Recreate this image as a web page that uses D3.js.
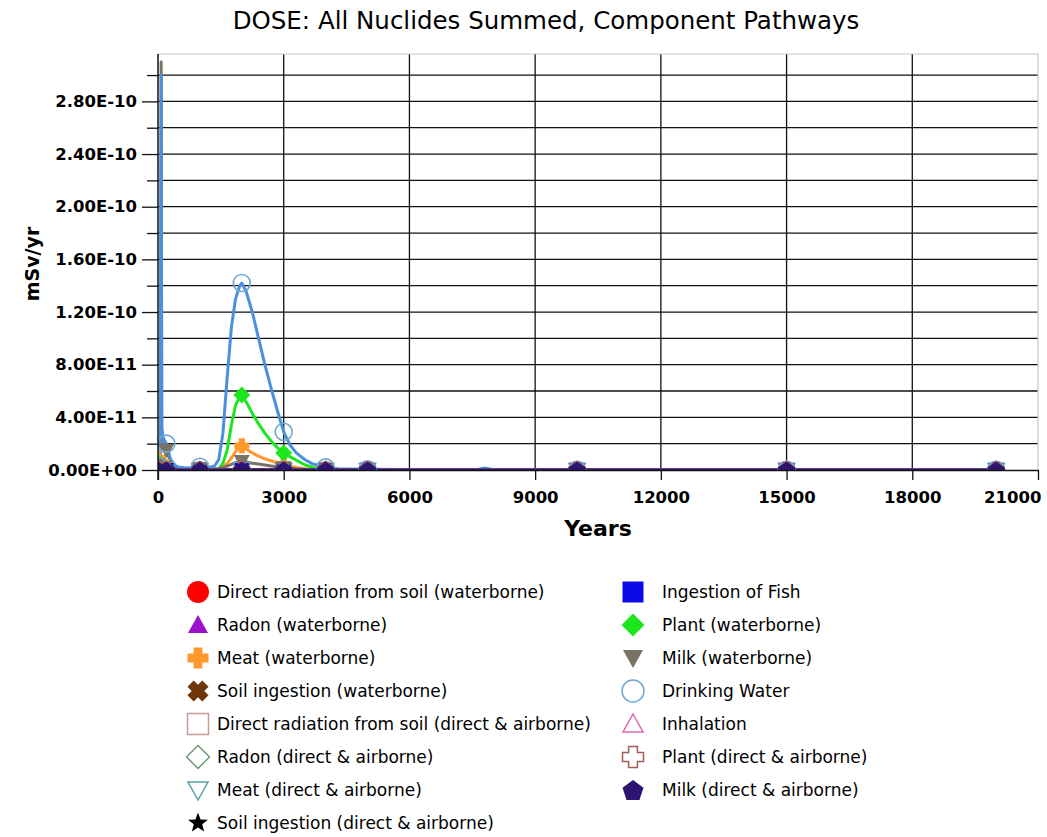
<!DOCTYPE html>
<html>
<head>
<meta charset="utf-8">
<script src="https://cdn.jsdelivr.net/npm/d3@7"></script>
<style>
  body { margin: 0; background: #fff; }
  svg { display: block; }
  text { font-family: "DejaVu Sans", Verdana, sans-serif; fill: #000; }
</style>
</head>
<body>
<svg id="chart" width="1047" height="837"></svg>
<script>
// ---- Data -------------------------------------------------------------
const chartTitle = "DOSE: All Nuclides Summed, Component Pathways";
const xTitle = "Years";
const yTitle = "mSv/yr";

// fine time grid (years) used by the pathways that vary
const years = [0, 30, 60, 75, 90, 130, 200, 300, 400, 500,
  700, 850, 1000, 1200, 1350, 1450, 1550, 1650, 1750, 1850,
  1950, 2000, 2100, 2250, 2400, 2550, 2700, 2850, 3000, 3150,
  3300, 3500, 3700, 4000, 4300, 5000, 6000, 7000, 7600, 7800,
  8000, 9000, 10000, 12000, 15000, 18000, 20000];

// times at which symbols are plotted
const markerYears = [0, 200, 1000, 2000, 3000, 4000, 5000, 10000, 15000, 20000];

// dose values, mSv/yr
const drinkingWater = [3e-12, 5e-12, 1.0e-11, 3.0e-10, 3.2e-11, 2.4e-11, 2.0e-11, 8e-12, 3.5e-12, 2e-12,
  1.5e-12, 2e-12, 2.5e-12, 2e-12, 3e-12, 8e-12, 2.8e-11, 7.0e-11, 1.08e-10, 1.30e-10,
  1.40e-10, 1.42e-10, 1.36e-10, 1.20e-10, 1.00e-10, 8.0e-11, 6.2e-11, 4.5e-11, 2.9e-11, 1.9e-11,
  1.3e-11, 8e-12, 4.5e-12, 2e-12, 1e-12, 5e-13, 3e-13, 2e-13, 3e-13, 1.5e-12,
  3e-13, 2e-13, 2e-13, 1e-13, 1e-13, 1e-13, 1e-13];

const milkWaterborne = [4e-12, 6e-12, 1.0e-11, 3.1e-10, 2.2e-11, 1.7e-11, 1.5e-11, 6e-12, 2.5e-12, 1.5e-12,
  1e-12, 1e-12, 1e-12, 1e-12, 1e-12, 1.2e-12, 2e-12, 3e-12, 4.2e-12, 5.5e-12,
  6.2e-12, 6.5e-12, 6e-12, 5.2e-12, 4.5e-12, 3.8e-12, 3e-12, 2.4e-12, 1.8e-12, 1.3e-12,
  9e-13, 6e-13, 4e-13, 2e-13, 1e-13, 1e-13, 1e-13, 1e-13, 1e-13, 1e-13,
  1e-13, 1e-13, 1e-13, 1e-13, 1e-13, 1e-13, 1e-13];

const plantWaterborne = [6e-12, 5.5e-12, 5e-12, 5e-12, 4.5e-12, 3e-12, 1.5e-12, 6e-13, 3e-13, 2e-13,
  2e-13, 2e-13, 2e-13, 2e-13, 3e-13, 1e-12, 5e-12, 1.5e-11, 3.4e-11, 4.9e-11,
  5.6e-11, 5.7e-11, 5.2e-11, 4.3e-11, 3.5e-11, 2.8e-11, 2.2e-11, 1.7e-11, 1.3e-11, 1.0e-11,
  7.5e-12, 4e-12, 2e-12, 8e-13, 4e-13, 2e-13, 1e-13, 1e-13, 1e-13, 1e-13,
  1e-13, 1e-13, 1e-13, 1e-13, 1e-13, 1e-13, 1e-13];

const meatWaterborne = [9e-12, 8.5e-12, 8e-12, 8e-12, 7.5e-12, 5e-12, 2.5e-12, 1e-12, 5e-13, 3e-13,
  2e-13, 2e-13, 2e-13, 2e-13, 2e-13, 5e-13, 2e-12, 5e-12, 9e-12, 1.4e-11,
  1.8e-11, 1.85e-11, 1.6e-11, 1.3e-11, 1.05e-11, 8.5e-12, 7e-12, 5.5e-12, 4e-12, 3e-12,
  2e-12, 1e-12, 5e-13, 2e-13, 1e-13, 0, 0, 0, 0, 0,
  0, 0, 0, 0, 0, 0, 0];

// pathways that stay near zero, given at the symbol times
const directSoilWaterborne = [3e-12, 1e-12, 0, 0, 0, 0, 0, 0, 0, 0];
const radonWaterborne      = [1e-12, 3e-13, 0, 0, 0, 0, 0, 0, 0, 0];
const soilIngWaterborne    = [1.5e-12, 5e-13, 0, 0, 0, 0, 0, 0, 0, 0];
const directSoilAir        = [0, 0, 0, 0, 0, 0, 0, 0, 0, 0];
const radonAir             = [0, 0, 0, 0, 0, 0, 0, 0, 0, 0];
const meatAir              = [0, 0, 0, 0, 0, 0, 0, 0, 0, 0];
const soilIngAir           = [0, 0, 0, 0, 0, 0, 0, 0, 0, 0];
const fish                 = [0, 0, 0, 0, 0, 0, 0, 0, 0, 0];
const inhalation           = [0, 0, 0, 0, 0, 0, 0, 0, 0, 0];
const plantAir             = [0, 0, 0, 0, 0, 0, 0, 0, 0, 0];
const milkAir              = [0, 0, 0, 0, 0, 0, 0, 0, 0, 0];

const yMajorTicks = [0, 4e-11, 8e-11, 1.2e-10, 1.6e-10, 2.0e-10, 2.4e-10, 2.8e-10];
const yMinorTicks = [2e-11, 6e-11, 1.0e-10, 1.4e-10, 1.8e-10, 2.2e-10, 2.6e-10, 3.0e-10];
const xTicks = [0, 3000, 6000, 9000, 12000, 15000, 18000, 21000];

// ---- Series styling (legend order) ------------------------------------
const series = [
  { name: "Direct radiation from soil (waterborne)", t: markerYears, v: directSoilWaterborne, color: "#ff0000", shape: "circle", fill: true },
  { name: "Radon (waterborne)", t: markerYears, v: radonWaterborne, color: "#9a12cc", shape: "triangle", fill: true },
  { name: "Meat (waterborne)", t: years, v: meatWaterborne, color: "#ff992e", shape: "plus", fill: true },
  { name: "Soil ingestion (waterborne)", t: markerYears, v: soilIngWaterborne, color: "#6e360a", shape: "x", fill: true },
  { name: "Direct radiation from soil (direct & airborne)", t: markerYears, v: directSoilAir, color: "#c49c9c", shape: "square", fill: false },
  { name: "Radon (direct & airborne)", t: markerYears, v: radonAir, color: "#6f9a7c", shape: "diamond", fill: false },
  { name: "Meat (direct & airborne)", t: markerYears, v: meatAir, color: "#5aa0a8", shape: "triangleDown", fill: false },
  { name: "Soil ingestion (direct & airborne)", t: markerYears, v: soilIngAir, color: "#000000", shape: "star", fill: true },
  { name: "Ingestion of Fish", t: markerYears, v: fish, color: "#0a0ae6", shape: "square", fill: true },
  { name: "Plant (waterborne)", t: years, v: plantWaterborne, color: "#1ee61e", shape: "diamond", fill: true },
  { name: "Milk (waterborne)", t: years, v: milkWaterborne, color: "#7a7264", shape: "triangleDown", fill: true },
  { name: "Drinking Water", t: years, v: drinkingWater, color: "#4a90dc", mark: "#6ea8d4", shape: "circle", fill: false },
  { name: "Inhalation", t: markerYears, v: inhalation, color: "#e066b0", shape: "triangle", fill: false },
  { name: "Plant (direct & airborne)", t: markerYears, v: plantAir, color: "#a45e5a", shape: "plus", fill: false },
  { name: "Milk (direct & airborne)", t: markerYears, v: milkAir, color: "#2e1470", shape: "pentagon", fill: true }
];

// ---- Layout -----------------------------------------------------------
const plot = { left: 158, right: 1038, top: 54, bottom: 470 };
const svg = d3.select("#chart");

const x = d3.scaleLinear().domain([0, 21000]).range([plot.left, plot.right]);
const y = d3.scaleLinear().domain([0, 3.16e-10]).range([plot.bottom, plot.top]);

function sci(v) {
  if (v === 0) return "0.00E+00";
  const parts = v.toExponential(2).split("e");
  const e = +parts[1];
  return parts[0] + "E" + (e < 0 ? "-" : "+") + String(Math.abs(e)).padStart(2, "0");
}

// symbol outlines, s = half size
function shapePath(shape, s) {
  const p = d3.path();
  const poly = pts => { pts.forEach((q, i) => i ? p.lineTo(q[0], q[1]) : p.moveTo(q[0], q[1])); p.closePath(); };
  if (shape === "circle") { p.arc(0, 0, s, 0, 2 * Math.PI); p.closePath(); }
  else if (shape === "square") poly([[-s, -s], [s, -s], [s, s], [-s, s]]);
  else if (shape === "diamond") poly([[0, -s], [s, 0], [0, s], [-s, 0]]);
  else if (shape === "triangle") poly([[0, -s], [s, s * 0.8], [-s, s * 0.8]]);
  else if (shape === "triangleDown") poly([[-s, -s * 0.8], [s, -s * 0.8], [0, s]]);
  else if (shape === "plus" || shape === "x") {
    const a = s * 0.42;
    let pts = [[-a, -s], [a, -s], [a, -a], [s, -a], [s, a], [a, a], [a, s], [-a, s], [-a, a], [-s, a], [-s, -a], [-a, -a]];
    if (shape === "x") {
      const c = Math.SQRT1_2;
      pts = pts.map(q => [(q[0] - q[1]) * c * 1.05, (q[0] + q[1]) * c * 1.05]);
    }
    poly(pts);
  }
  else if (shape === "star") {
    const pts = [];
    for (let i = 0; i < 10; i++) {
      const r = i % 2 ? s * 0.42 : s;
      const ang = -Math.PI / 2 + i * Math.PI / 5;
      pts.push([r * Math.cos(ang), r * Math.sin(ang)]);
    }
    poly(pts);
  }
  else if (shape === "pentagon") {
    const pts = [];
    for (let i = 0; i < 5; i++) {
      const ang = -Math.PI / 2 + i * 2 * Math.PI / 5;
      pts.push([s * Math.cos(ang), s * Math.sin(ang) + s * 0.1]);
    }
    poly(pts);
  }
  return p.toString();
}

// ---- Title ------------------------------------------------------------
svg.append("text")
  .attr("x", 546).attr("y", 29)
  .attr("text-anchor", "middle")
  .style("font-size", "24.5px")
  .text(chartTitle);

// ---- Grid -------------------------------------------------------------
const grid = svg.append("g");
grid.selectAll("line.h")
  .data(yMajorTicks.concat(yMinorTicks).filter(d => d > 0))
  .join("line")
  .attr("x1", plot.left).attr("x2", plot.right)
  .attr("y1", d => y(d)).attr("y2", d => y(d))
  .attr("stroke", "#111").attr("stroke-width", 1.3);
grid.selectAll("line.v")
  .data(xTicks.filter(d => d > 0 && d < 21000))
  .join("line")
  .attr("x1", d => x(d)).attr("x2", d => x(d))
  .attr("y1", plot.top).attr("y2", plot.bottom)
  .attr("stroke", "#111").attr("stroke-width", 1.3);

// light frame on top and right
svg.append("path")
  .attr("d", `M${plot.left},${plot.top}H${plot.right}V${plot.bottom}`)
  .attr("fill", "none").attr("stroke", "#c8c8c8").attr("stroke-width", 1.2);

// ---- Series -----------------------------------------------------------
svg.append("clipPath").attr("id", "plotClip")
  .append("rect")
  .attr("x", plot.left).attr("y", plot.top)
  .attr("width", plot.right - plot.left).attr("height", plot.bottom - plot.top + 1);

const body = svg.append("g").attr("clip-path", "url(#plotClip)");
const line = d3.line().x(d => x(d[0])).y(d => y(d[1]));

series.forEach(s => {
  const pts = s.t.map((t, i) => [t, s.v[i]]);
  body.append("path")
    .datum(pts)
    .attr("d", line)
    .attr("fill", "none")
    .attr("stroke", s.color)
    .attr("stroke-width", 3)
    .attr("stroke-linejoin", "round");
});

const markerSize = { circle: 8.5, square: 7, diamond: 8.5, triangle: 8, triangleDown: 8, plus: 7.5, x: 7.5, star: 8.5, pentagon: 9.5 };
series.forEach(s => {
  const pts = markerYears.map(t => [t, s.v[s.t.indexOf(t)]]);
  body.selectAll(null)
    .data(pts)
    .join("path")
    .attr("transform", d => `translate(${x(d[0])},${y(d[1])})`)
    .attr("d", shapePath(s.shape, markerSize[s.shape]))
    .attr("fill", s.fill ? s.color : "none")
    .attr("stroke", s.fill ? "none" : (s.mark || s.color))
    .attr("stroke-width", 1.6);
});

// ---- Axes -------------------------------------------------------------
const yAxis = svg.append("g")
  .attr("transform", `translate(${plot.left},0)`)
  .call(d3.axisLeft(y).tickValues(yMajorTicks).tickFormat(sci).tickSize(16).tickPadding(5));
svg.append("g")
  .attr("transform", `translate(${plot.left},0)`)
  .call(d3.axisLeft(y).tickValues(yMinorTicks).tickFormat("").tickSize(11))
  .call(g => g.select(".domain").remove());

const xAxis = svg.append("g")
  .attr("transform", `translate(0,${plot.bottom})`)
  .call(d3.axisBottom(x).tickValues(xTicks).tickFormat(d3.format("d")).tickSize(10).tickPadding(11));

[yAxis, xAxis].forEach(g => {
  g.select(".domain").remove();
  g.selectAll(".tick text")
    .style("font-family", "'DejaVu Sans', Verdana, sans-serif")
    .style("font-size", "16.5px")
    .style("font-weight", "bold")
    .attr("fill", "#000");
});
svg.selectAll("g .tick line").attr("stroke", "#111").attr("stroke-width", 1.3);
// keep the last year label inside the canvas
xAxis.selectAll(".tick text").filter(d => d === 21000).attr("text-anchor", "end").attr("x", 3);

// axis lines
svg.append("line")
  .attr("x1", plot.left).attr("x2", plot.left)
  .attr("y1", plot.top).attr("y2", plot.bottom + 10)
  .attr("stroke", "#111").attr("stroke-width", 1.5);
svg.append("line")
  .attr("x1", plot.left).attr("x2", plot.right)
  .attr("y1", plot.bottom + 0.5).attr("y2", plot.bottom + 0.5)
  .attr("stroke", "#111").attr("stroke-width", 1.5);

// axis titles
svg.append("text")
  .attr("x", 598).attr("y", 536)
  .attr("text-anchor", "middle")
  .style("font-size", "22px").style("font-weight", "bold")
  .text(xTitle);
svg.append("text")
  .attr("transform", "translate(39,264) rotate(-90)")
  .attr("text-anchor", "middle")
  .style("font-size", "19px").style("font-weight", "bold")
  .text(yTitle);

// ---- Legend -----------------------------------------------------------
const legendCols = [
  { mx: 198, tx: 217, items: series.slice(0, 8) },
  { mx: 633, tx: 662, items: series.slice(8) }
];
const legendSize = { circle: 11, square: 10.5, diamond: 11.5, triangle: 10, triangleDown: 10, plus: 10.5, x: 10, star: 10.5, pentagon: 11 };
legendCols.forEach(col => {
  const rows = svg.append("g").selectAll("g")
    .data(col.items)
    .join("g")
    .attr("transform", (d, i) => `translate(0,${592 + i * 33})`);
  rows.append("path")
    .attr("transform", `translate(${col.mx},0)`)
    .attr("d", d => shapePath(d.shape, legendSize[d.shape]))
    .attr("fill", d => d.fill ? d.color : "#fff")
    .attr("stroke", d => d.fill ? "none" : (d.mark || d.color))
    .attr("stroke-width", 1.5);
  rows.append("text")
    .attr("x", col.tx).attr("y", 6)
    .style("font-size", "17px")
    .attr("fill", "#222")
    .text(d => d.name);
});
</script>
</body>
</html>
